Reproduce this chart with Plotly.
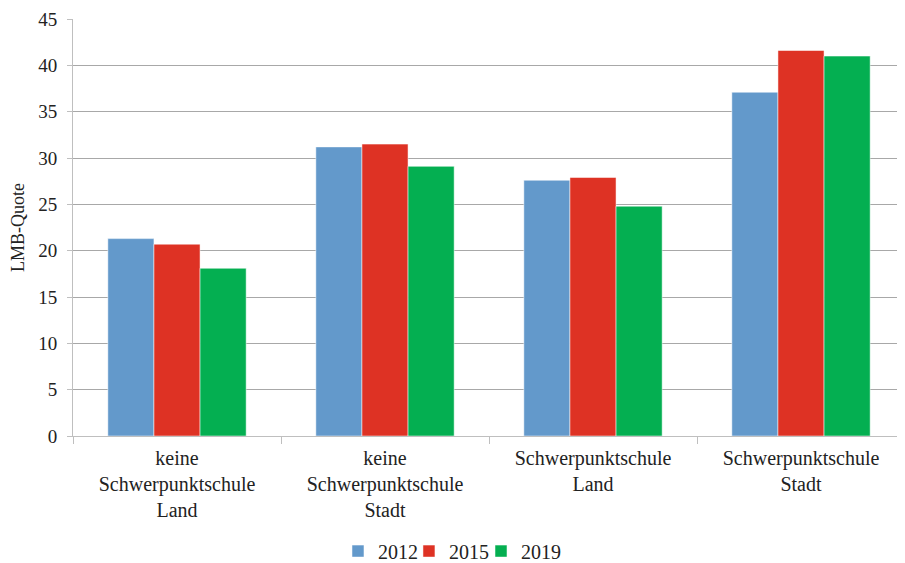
import plotly.graph_objects as go

categories = ["keine<br>Schwerpunktschule<br>Land", "keine<br>Schwerpunktschule<br>Stadt",
              "Schwerpunktschule<br>Land", "Schwerpunktschule<br>Stadt"]
v2012 = [21.3, 31.2, 27.6, 37.1]
v2015 = [20.7, 31.5, 27.9, 41.6]
v2019 = [18.1, 29.1, 24.8, 41.0]
series = [("2012", v2012, "#6399CB"), ("2015", v2015, "#DE3224"), ("2019", v2019, "#04AF51")]
legend_ids = ["legend", "legend2", "legend3"]
legend_x = [0.3185, 0.4038, 0.4904]

FAM = "Liberation Serif"

fig = go.Figure()
for (name, vals, col), lid in zip(series, legend_ids):
    fig.add_trace(go.Bar(x=categories, y=vals, name=name, marker_color=col, legend=lid,
                         showlegend=True,
                         marker_line=dict(color="rgba(255,255,255,0.5)", width=1)))

def leg(x):
    return dict(orientation="h", x=x, xanchor="left", y=-0.276, yanchor="middle",
                font=dict(family=FAM, size=20, color="#222"), bgcolor="rgba(0,0,0,0)")

fig.update_layout(
    width=897, height=555, barmode="group", bargap=0.335, bargroupgap=0,
    showlegend=True,
    margin=dict(l=65, r=0, t=11, b=127, autoexpand=False),
    paper_bgcolor="white", plot_bgcolor="white",
    font=dict(family=FAM, size=19, color="#222"),
    legend=leg(legend_x[0]), legend2=leg(legend_x[1]), legend3=leg(legend_x[2]),
    xaxis=dict(tickson="boundaries", ticks="outside", ticklen=7, tickcolor="#bfbfbf",
               showline=True, linecolor="#bfbfbf", linewidth=1, showgrid=False,
               ticklabelstandoff=4,
               tickfont=dict(family=FAM, size=20, color="#222")),
    yaxis=dict(range=[0, 45], dtick=5, ticks="outside", ticklen=5, tickcolor="#bfbfbf",
               showline=True, linecolor="#bfbfbf", linewidth=1,
               showgrid=True, gridcolor="#a8a8a8", gridwidth=1, zeroline=False,
               ticklabelstandoff=6, ticklabeloverflow="allow",
               title=dict(text="LMB-Quote", font=dict(family=FAM, size=18, color="#222"), standoff=8),
               tickfont=dict(family=FAM, size=19, color="#222")),
)
fig.write_html("out.html")
